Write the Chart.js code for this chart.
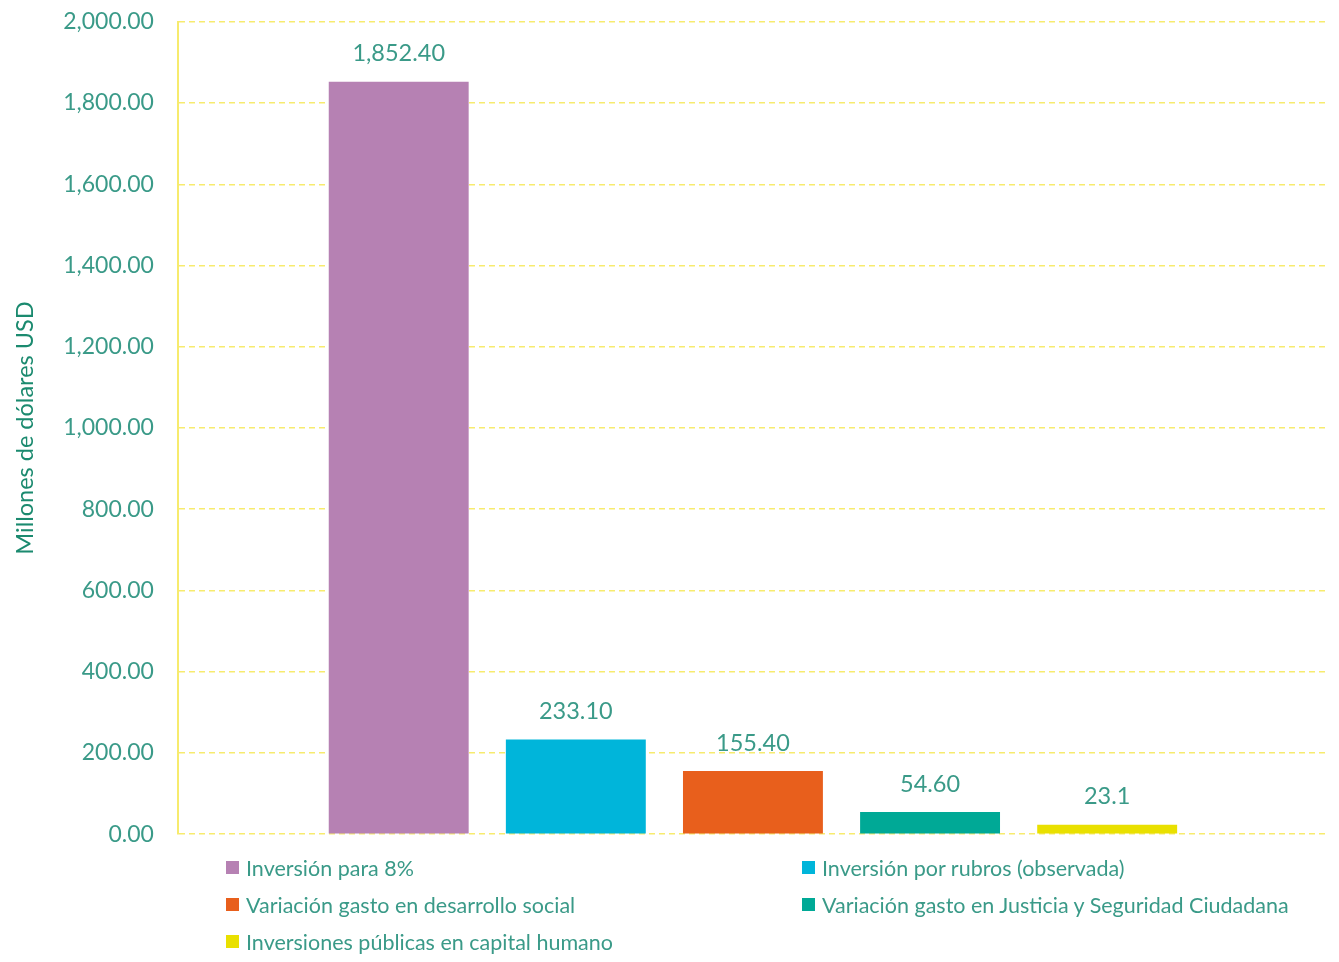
<!DOCTYPE html>
<html>
<head>
<meta charset="utf-8">
<script src="https://cdn.jsdelivr.net/npm/chart.js@4.4.0/dist/chart.umd.min.js"></script>
<style>
    body { margin: 0; background: #fff; font-family: Lato, "Open Sans", sans-serif; overflow: hidden; }
    #wrap { position: relative; width: 1339px; height: 962px; overflow: hidden; }
    #chart-box { position: absolute; left: 0; top: -16px; width: 1339px; height: 888px; }
    #legend { position: absolute; left: 226px; top: 856px; display: grid;
              grid-template-columns: 576px 520px; row-gap: 14px; }
    .item { display: flex; align-items: center; font-size: 21.5px; color: #3a9a88; height: 23px; white-space: nowrap; }
    .box { width: 13px; height: 13px; margin-right: 7px; flex: none; }
</style>
</head>
<body>
<div id="wrap">
    <div id="chart-box"><canvas id="chart"></canvas></div>
    <div id="legend"></div>
</div>
<script>
const seriesNames = [
    'Inversión para 8%',
    'Inversión por rubros (observada)',
    'Variación gasto en desarrollo social',
    'Variación gasto en Justicia y Seguridad Ciudadana',
    'Inversiones públicas en capital humano'
];
const seriesValues = [1852.4, 233.1, 155.4, 54.6, 23.1];
const valueLabels = ['1,852.40', '233.10', '155.40', '54.60', '23.1'];
const seriesColors = ['#b681b3', '#00b5da', '#e85f1c', '#00a996', '#e9e000'];
const categories = [''];

const TEXT_COLOR = '#3a9a88';
const GRID_COLOR = '#f7eb6e';
const FONT = 'Lato, "Open Sans", sans-serif';

// value labels above each bar
const valueLabelPlugin = {
    id: 'valueLabels',
    afterDatasetsDraw(chart) {
        const c = chart.ctx;
        c.save();
        c.font = '23.5px ' + FONT;
        c.fillStyle = TEXT_COLOR;
        c.textAlign = 'center';
        c.textBaseline = 'middle';
        chart.data.datasets.forEach((ds, i) => {
            const bar = chart.getDatasetMeta(i).data[0];
            c.fillText(valueLabels[i], bar.x, bar.y - 28);
        });
        c.restore();
    }
};

const ctx = document.getElementById('chart').getContext('2d');
new Chart(ctx, {
    type: 'bar',
    data: {
        labels: categories,
        datasets: seriesNames.map((name, i) => ({
            label: name,
            data: [seriesValues[i]],
            backgroundColor: seriesColors[i],
            categoryPercentage: 0.77,
            barPercentage: 0.79
        }))
    },
    options: {
        responsive: true,
        maintainAspectRatio: false,
        animation: false,
        layout: { padding: { top: 10, right: 11, bottom: 12, left: 11 } },
        scales: {
            x: {
                grid: { display: false, drawTicks: false },
                border: { display: false },
                ticks: { display: false }
            },
            y: {
                min: 0,
                max: 2000,
                ticks: {
                    stepSize: 200,
                    color: TEXT_COLOR,
                    font: { family: FONT, size: 23 },
                    padding: 24,
                    callback: v => v.toLocaleString('en-US', { minimumFractionDigits: 2, maximumFractionDigits: 2 })
                },
                grid: {
                    color: GRID_COLOR,
                    lineWidth: 1.5,
                    drawTicks: false
                },
                border: { display: true, color: GRID_COLOR, width: 2, dash: [6, 4] },
                title: {
                    display: true,
                    text: 'Millones de dólares USD',
                    color: '#1b8a6f',
                    font: { family: FONT, size: 23.5 },
                    padding: { top: 0, bottom: 0 }
                }
            }
        },
        plugins: {
            legend: { display: false },
            tooltip: { enabled: false }
        }
    },
    plugins: [valueLabelPlugin]
});

// legend in two columns, as in the reference
const legendEl = document.getElementById('legend');
seriesNames.forEach((name, i) => {
    const item = document.createElement('div');
    item.className = 'item';
    item.innerHTML = `<span class="box" style="background:${seriesColors[i]}"></span>${name}`;
    legendEl.appendChild(item);
});
</script>
</body>
</html>
